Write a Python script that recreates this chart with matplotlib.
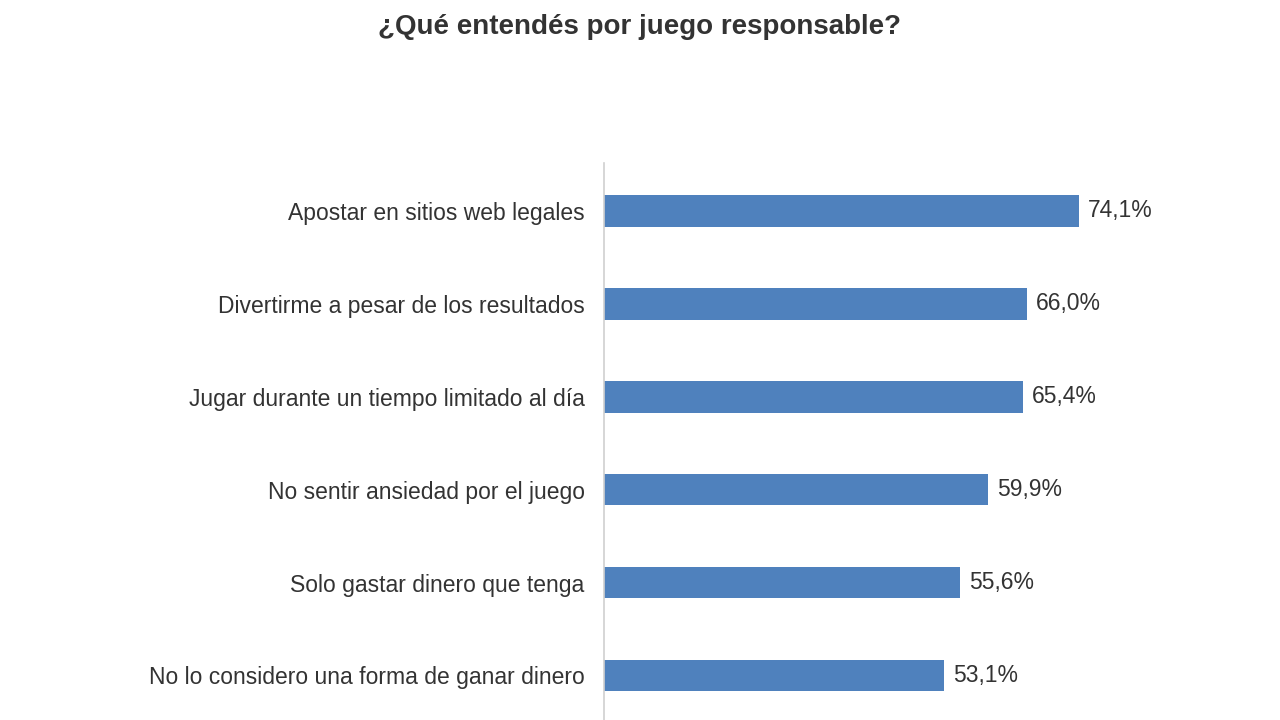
import matplotlib
matplotlib.use("Agg")
import matplotlib.pyplot as plt

categories = [
    "Apostar en sitios web legales",
    "Divertirme a pesar de los resultados",
    "Jugar durante un tiempo limitado al día",
    "No sentir ansiedad por el juego",
    "Solo gastar dinero que tenga",
    "No lo considero una forma de ganar dinero",
]
values = [74.1, 66.0, 65.4, 59.9, 55.6, 53.1]
value_labels = ["74,1%", "66,0%", "65,4%", "59,9%", "55,6%", "53,1%"]

plt.rcParams["font.family"] = "Liberation Sans"

fig = plt.figure(figsize=(12.8, 7.2), dpi=100)
ax = fig.add_axes([604 / 1280, 0, 1 - 604 / 1280, (720 - 163) / 720])

y = list(range(len(categories)))
ax.barh(y, values, height=0.34, color="#4F81BD")
ax.set_xlim(0, 105.5)
ax.set_ylim(5.48, -0.516)

for yi, v, lab in zip(y, values, value_labels):
    ax.text(v + 1.4, yi, lab, va="center", ha="left", fontsize=16.5, color="#333333")

ax.set_yticks(y)
ax.set_yticklabels(categories, fontsize=16.5, color="#333333")
ax.tick_params(axis="y", length=0, pad=14)
ax.set_xticks([])
for s in ["top", "right", "bottom"]:
    ax.spines[s].set_visible(False)
ax.spines["left"].set_color("#d0d0d0")
ax.spines["left"].set_linewidth(1.2)

fig.text(0.5, 1 - 27 / 720, "¿Qué entendés por juego responsable?", ha="center", va="center",
         fontsize=20, fontweight="bold", color="#333333")

fig.savefig("out.png", dpi=100, facecolor="white")
